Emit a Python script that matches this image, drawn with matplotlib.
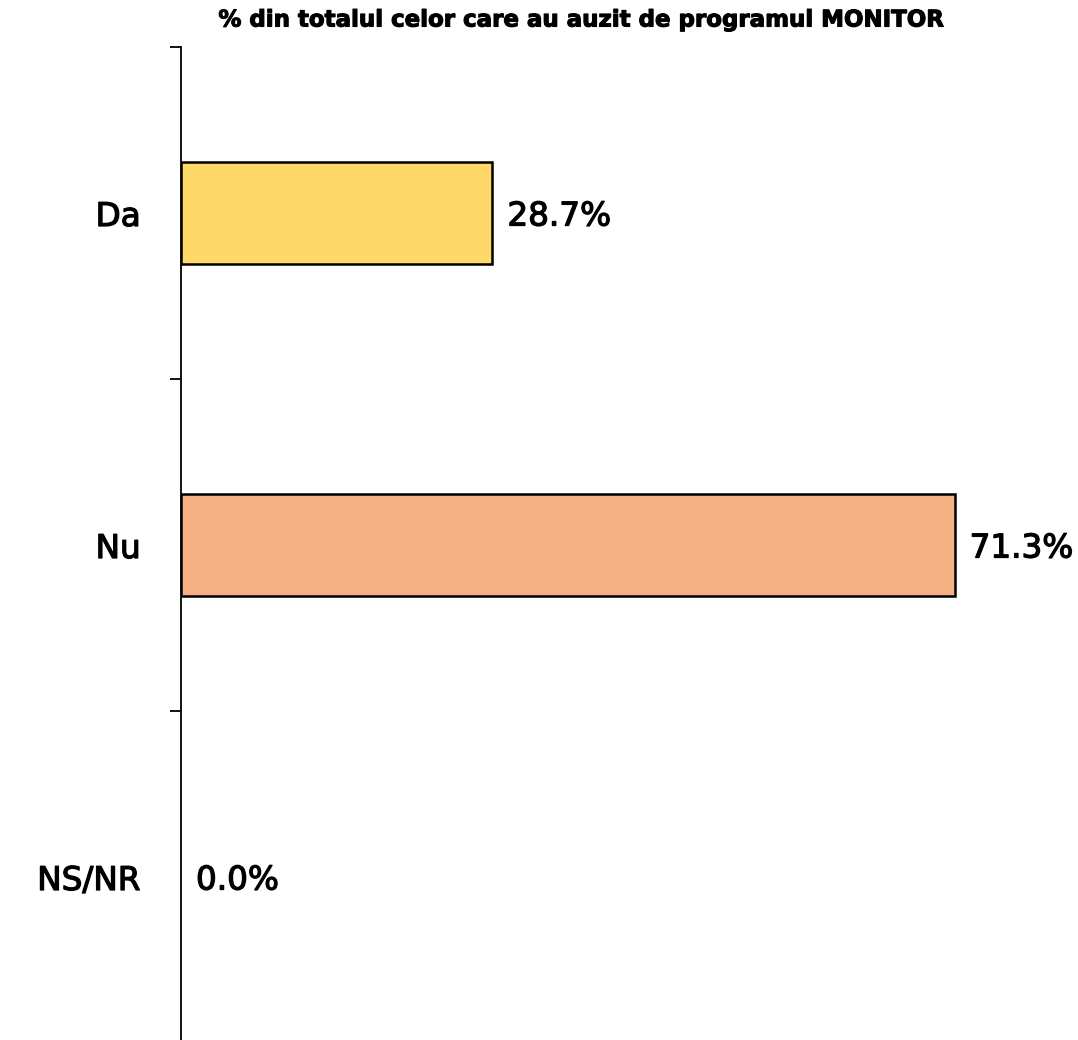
import numpy as np
import matplotlib.pyplot as plt
import matplotlib.patheffects as pe

# Date
categorii = ['Da', 'Nu', 'NS/NR']
valori = [28.7, 71.3, 0.0]
culori = ['#FED96A', '#F4B183', '#BDD7EE']
titlu = '% din totalul celor care au auzit de programul MONITOR'

plt.rcParams['font.family'] = ['DejaVu Sans']

# contur subtire ca textul sa para mai gros (medium)
gros = [pe.withStroke(linewidth=0.9, foreground='black')]

fig = plt.figure(figsize=(10.78, 10.40), dpi=100)
ax = fig.add_axes([181 / 1078, -3 / 1040, (979 - 181) / 1078, 996 / 1040])

y = np.arange(len(categorii))
grosimi = [1.8 if v > 0 else 0 for v in valori]
bare = ax.barh(y, valori, height=0.305, color=culori, edgecolor='black', linewidth=grosimi)

ax.set_ylim(len(categorii) - 0.5, -0.5)
ax.set_xlim(0, (979 - 181) / 10.85)

# Etichete cu valori
for bara, v in zip(bare, valori):
    ax.annotate(f'{v:.1f}%', (bara.get_width(), bara.get_y() + bara.get_height() / 2),
                xytext=(15, -3), textcoords='offset pixels',
                va='center', ha='left', fontsize=23.5, path_effects=gros)

# Axa Y: liniute intre categorii, etichete centrate
ax.set_yticks(np.arange(-0.5, len(categorii), 1.0))
ax.set_yticklabels([])
ax.tick_params(axis='y', which='major', length=8, width=1.3, direction='out')
ax.set_yticks(y, minor=True)
ax.set_yticklabels(categorii, minor=True, fontsize=23.5)
for t in ax.get_yticklabels(minor=True):
    t.set_path_effects(gros)
ax.tick_params(axis='y', which='minor', length=0, pad=29)

ax.xaxis.set_visible(False)
for s in ['top', 'right', 'bottom']:
    ax.spines[s].set_visible(False)
ax.spines['left'].set_linewidth(1.3)

fig.text((217 + 943) / 2 / 1078, 1 - 20 / 1040, titlu, ha='center', va='center',
         fontsize=16.5, fontweight='bold',
         path_effects=[pe.withStroke(linewidth=0.8, foreground='black')])

fig.savefig('out.png', dpi=100)
